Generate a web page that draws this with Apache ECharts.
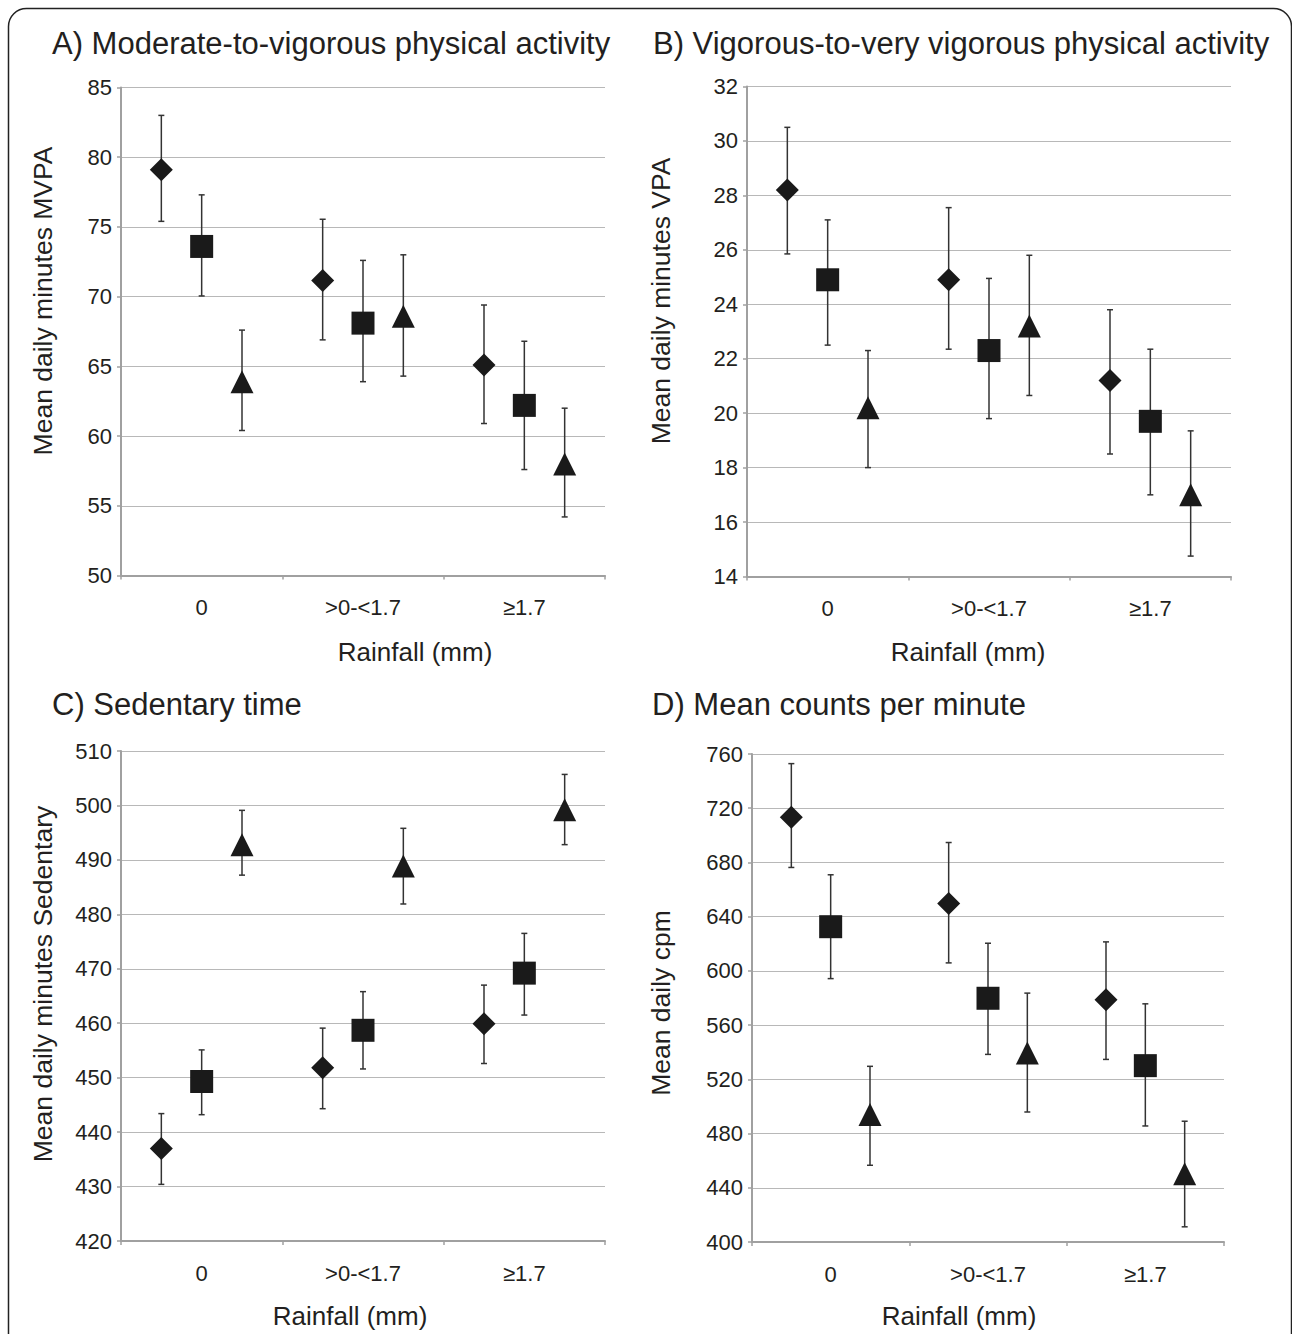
<!DOCTYPE html>
<html>
<head>
<meta charset="utf-8">
<script src="https://cdn.jsdelivr.net/npm/echarts@6/dist/echarts.min.js"></script>
<style>
html,body{margin:0;padding:0;background:#fff;}
#chart{width:1292px;height:1334px;}
</style>
</head>
<body>
<div id="chart"></div>
<script>
// ---------- DATA ----------
const categories = ['0', '>0-<1.7', '≥1.7'];
const seriesNames = ['Diamond', 'Square', 'Triangle'];

// Panel A: MVPA (rows: diamond, square, triangle; columns: categories)
const mvpaMean = [[79.1, 71.15, 65.1], [73.6, 68.1, 62.2], [63.9, 68.6, 58.0]];
const mvpaLow  = [[75.4, 66.9, 60.9], [70.05, 63.9, 57.6], [60.4, 64.3, 54.2]];
const mvpaHigh = [[83.0, 75.55, 69.4], [77.3, 72.6, 66.8], [67.6, 73.0, 62.0]];

// Panel B: VPA
const vpaMean = [[28.2, 24.9, 21.2], [24.9, 22.3, 19.7], [20.2, 23.2, 17.0]];
const vpaLow  = [[25.85, 22.35, 18.5], [22.5, 19.8, 17.0], [18.0, 20.65, 14.75]];
const vpaHigh = [[30.5, 27.55, 23.8], [27.1, 24.95, 22.35], [22.3, 25.8, 19.35]];

// Panel C: Sedentary
const sedMean = [[437.0, 451.8, 459.9], [449.3, 458.7, 469.2], [492.8, 488.9, 499.2]];
const sedLow  = [[430.4, 444.3, 452.6], [443.2, 451.6, 461.5], [487.2, 481.9, 492.8]];
const sedHigh = [[443.4, 459.1, 467.0], [455.1, 465.8, 476.5], [499.1, 495.8, 505.7]];

// Panel D: cpm
const cpmMean = [[713.4, 649.8, 578.7], [632.6, 579.8, 530.1], [494.0, 539.4, 450.3]];
const cpmLow  = [[676.3, 605.9, 534.7], [594.3, 538.4, 485.6], [456.6, 495.9, 411.2]];
const cpmHigh = [[752.9, 694.7, 621.4], [670.9, 620.4, 575.7], [529.6, 583.6, 489.1]];

// Axis settings
const yMins = [50, 14, 420, 400];
const yMaxs = [85, 32, 510, 760];
const yIntervals = [5, 2, 10, 40];

const panelTitles = ['A) Moderate-to-vigorous physical activity', 'B) Vigorous-to-very vigorous physical activity', 'C) Sedentary time', 'D) Mean counts per minute'];
const yNames = ['Mean daily minutes MVPA', 'Mean daily minutes VPA', 'Mean daily minutes Sedentary', 'Mean daily cpm'];
const xName = 'Rainfall (mm)';

// ---------- LAYOUT ----------
const FONT = "'Liberation Sans', Arial, Helvetica, sans-serif";
const TXT = '#231f20';
const grids = [
  {left: 121, top: 87.5, width: 484, height: 488},
  {left: 747, top: 86.5, width: 484, height: 490},
  {left: 121, top: 751, width: 484, height: 490},
  {left: 752, top: 754, width: 472, height: 488}
];
const titlePos = [[52, 43], [653, 43], [52, 704], [652, 704]];
const yNamePos = [[43, 301], [661, 301], [43, 984], [661, 1003]];
const xNamePos = [[415, 652], [968, 652], [350, 1316], [959, 1316]];
const offsets = [0.25, 0.5, 0.75];
const symbols = ['diamond', 'rect', 'triangle'];

const panels = [
  [mvpaMean, mvpaLow, mvpaHigh],
  [vpaMean, vpaLow, vpaHigh],
  [sedMean, sedLow, sedHigh],
  [cpmMean, cpmLow, cpmHigh]
];

const xAxes = [], yAxes = [], series = [], graphics = [];

function errRender(params, api) {
  const x = api.value(0);
  const lo = api.coord([x, api.value(1)]);
  const hi = api.coord([x, api.value(2)]);
  const w = 3;
  const st = {stroke: '#333', lineWidth: 1.5};
  return {type: 'group', children: [
    {type: 'line', shape: {x1: lo[0], y1: lo[1], x2: hi[0], y2: hi[1]}, style: st},
    {type: 'line', shape: {x1: lo[0] - w, y1: lo[1], x2: lo[0] + w, y2: lo[1]}, style: st},
    {type: 'line', shape: {x1: hi[0] - w, y1: hi[1], x2: hi[0] + w, y2: hi[1]}, style: st}
  ]};
}

panels.forEach((p, i) => {
  const [mean, low, high] = p;
  xAxes.push({
    type: 'category', gridIndex: i, data: categories, boundaryGap: true,
    axisLine: {lineStyle: {color: '#a0a0a0', width: 2}},
    axisTick: {show: true, length: 4, lineStyle: {color: '#a0a0a0', width: 1.5}},
    axisLabel: {color: TXT, fontSize: 22, fontFamily: FONT, margin: 21, lineHeight: 22},
    splitLine: {show: false}
  });
  xAxes.push({type: 'value', gridIndex: i, min: 0, max: 3, show: false, splitLine: {show: false}});
  yAxes.push({
    type: 'value', gridIndex: i, min: yMins[i], max: yMaxs[i], interval: yIntervals[i],
    axisLine: {show: true, lineStyle: {color: '#a0a0a0', width: 2}},
    axisTick: {show: true, length: 4, lineStyle: {color: '#a0a0a0', width: 1.5}},
    axisLabel: {color: TXT, fontSize: 22, fontFamily: FONT, margin: 9},
    splitLine: {show: true, lineStyle: {color: '#b8b8b8', width: 1}}
  });
  for (let s = 0; s < 3; s++) {
    const errData = categories.map((c, k) => [k + offsets[s], low[s][k], high[s][k]]);
    const ptData = categories.map((c, k) => [k + offsets[s], mean[s][k]]);
    series.push({
      type: 'custom', name: seriesNames[s] + ' err', xAxisIndex: 2 * i + 1, yAxisIndex: i,
      renderItem: errRender, data: errData, encode: {x: 0, y: [1, 2]}, z: 2, silent: true
    });
    series.push({
      type: 'scatter', name: seriesNames[s], xAxisIndex: 2 * i + 1, yAxisIndex: i,
      symbol: symbols[s], symbolSize: 23, data: ptData, z: 3,
      itemStyle: {color: '#1a1a1a', opacity: 1}
    });
  }
  graphics.push({type: 'text', x: titlePos[i][0], y: titlePos[i][1],
    style: {text: panelTitles[i], font: '31px ' + FONT, fill: TXT, textAlign: 'left', textVerticalAlign: 'middle'}});
  graphics.push({type: 'text', x: yNamePos[i][0], y: yNamePos[i][1], rotation: Math.PI / 2,
    style: {text: yNames[i], font: '26.5px ' + FONT, fill: TXT, textAlign: 'center', textVerticalAlign: 'middle'}});
  graphics.push({type: 'text', x: xNamePos[i][0], y: xNamePos[i][1],
    style: {text: xName, font: '26px ' + FONT, fill: TXT, textAlign: 'center', textVerticalAlign: 'middle'}});
});

graphics.push({type: 'rect', shape: {x: 8.5, y: 8.5, width: 1283, height: 1400, r: 18},
  style: {fill: 'none', stroke: '#222', lineWidth: 1.5}, z: 100});

const chart = echarts.init(document.getElementById('chart'), null, {renderer: 'svg'});
chart.setOption({
  animation: false,
  backgroundColor: '#fff',
  grid: grids,
  xAxis: xAxes,
  yAxis: yAxes,
  series: series,
  graphic: graphics
});
</script>
</body>
</html>
